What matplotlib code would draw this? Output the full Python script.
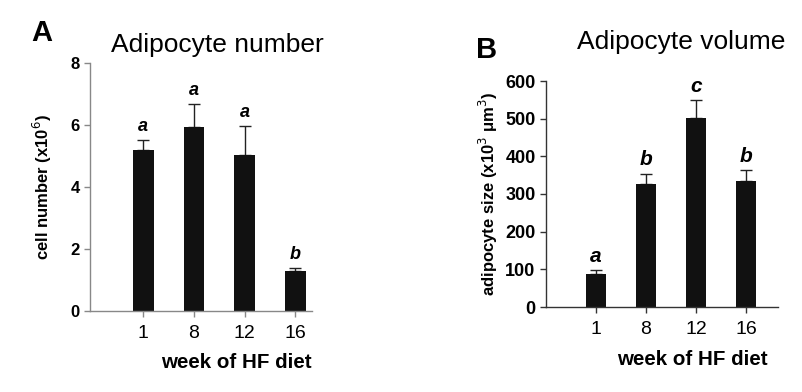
import numpy as np
import matplotlib.pyplot as plt
from matplotlib.transforms import ScaledTranslation

weeks = ['1', '8', '12', '16']

# panel A - adipocyte number (x10^6)
num_mean = [5.18, 5.95, 5.02, 1.29]
num_err = [0.34, 0.73, 0.96, 0.10]
num_letters = ['a', 'a', 'a', 'b']

# panel B - adipocyte size (x10^3 um^3)
vol_mean = [87, 326, 501, 335]
vol_err = [10, 28, 48, 28]
vol_letters = ['a', 'b', 'c', 'b']

W, H = 802, 392
fig = plt.figure(figsize=(W / 100, H / 100), dpi=100)
plt.rcParams['font.family'] = ['Liberation Sans', 'DejaVu Sans']


def px(l, b, r, t):
    return [l / W, 1 - b / H, (r - l) / W, (b - t) / H]


def panel(rect, mean, err, letters, ymax, ystep, xlim, spine_col, lab_off, ytick_fs, let_fs):
    ax = fig.add_axes(rect)
    x = np.arange(len(mean))
    ax.bar(x, mean, width=0.41, color='#111111', zorder=2)
    ax.errorbar(x, mean, yerr=[np.zeros(len(err)), err], fmt='none',
                ecolor='#222222', elinewidth=1.0, capsize=4, capthick=1.0, zorder=1)
    for xi, m, e, s in zip(x, mean, err, letters):
        ax.text(xi, m + e + ymax * 0.02, s, ha='center', va='bottom',
                fontsize=let_fs, fontweight='bold', fontstyle='italic')
    ax.set_xlim(*xlim)
    ax.set_ylim(0, ymax)
    ax.set_yticks(np.arange(0, ymax + 1, ystep))
    ax.set_xticks(x)
    ax.set_xticklabels(weeks, fontsize=14)
    for lbl, off in zip(ax.get_xticklabels(), lab_off):
        lbl.set_transform(lbl.get_transform() + ScaledTranslation(off / 100, 0, fig.dpi_scale_trans))
    for lbl in ax.get_yticklabels():
        lbl.set_fontweight('bold')
        lbl.set_fontsize(ytick_fs)
    for s in ['top', 'right']:
        ax.spines[s].set_visible(False)
    for s in ['left', 'bottom']:
        ax.spines[s].set_color(spine_col)
        ax.spines[s].set_linewidth(1.0)
    ax.tick_params(direction='out', length=4, color=spine_col, width=1.0)
    ax.tick_params(axis='x', pad=6)
    return ax


axA = panel(px(90, 311, 312, 63), num_mean, num_err, num_letters, 8, 2,
            (-1.05, 3.33), '#888888', [0, 1, 0, 1], 12, 13)
axA.set_ylabel('cell number (x10$^6$)', fontsize=12, fontweight='bold', labelpad=12)
axA.set_xlabel('week of HF diet', fontsize=14.8, fontweight='bold')
axA.xaxis.set_label_coords(0.66, -0.17)
fig.text(42 / W, 1 - 33 / H, 'A', fontsize=21, fontweight='bold', ha='center', va='center')
fig.text(217 / W, 1 - 45 / H, 'Adipocyte number', fontsize=19, ha='center', va='center')

axB = panel(px(546, 307, 778, 81), vol_mean, vol_err, vol_letters, 600, 100,
            (-1.0, 3.64), '#333333', [1, 7, 8, 15], 13, 15)
axB.set_ylabel('adipocyte size (x10$^3$ \u03bcm$^3$)', fontsize=12, fontweight='bold', labelpad=4)
axB.set_xlabel('week of HF diet', fontsize=14.8, fontweight='bold')
axB.xaxis.set_label_coords(0.63, -0.19)
fig.text(487 / W, 1 - 50 / H, 'B', fontsize=21, fontweight='bold', ha='center', va='center')
fig.text(681 / W, 1 - 42 / H, 'Adipocyte volume', fontsize=19, ha='center', va='center')

fig.savefig('out.png', dpi=100)
